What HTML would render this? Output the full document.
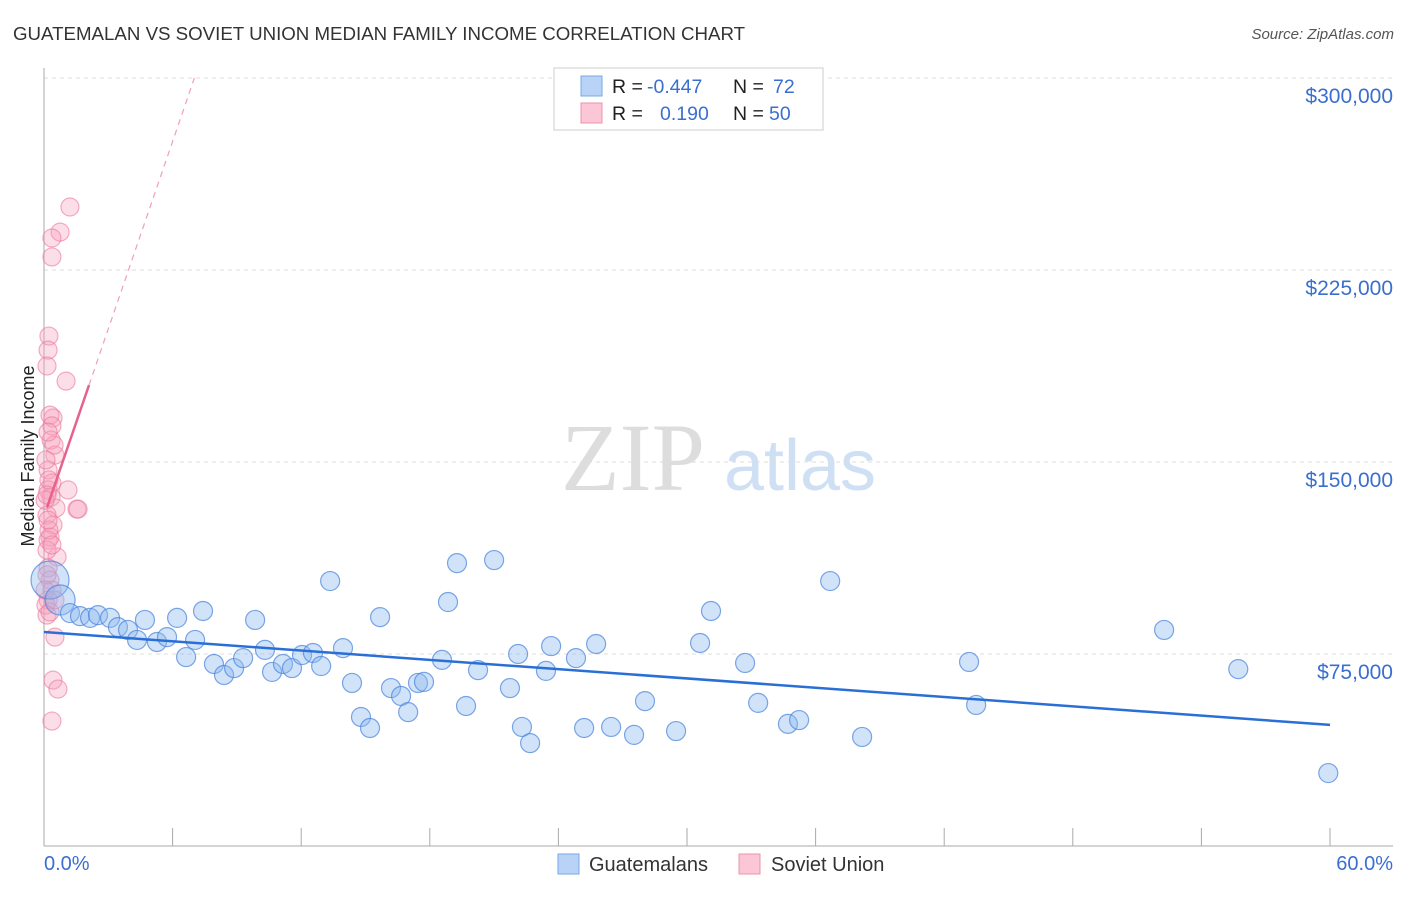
<!DOCTYPE html>
<html><head><meta charset="utf-8">
<style>
body{margin:0;background:#fff;font-family:"Liberation Sans",sans-serif;}
svg text{font-family:"Liberation Sans",sans-serif;}
</style></head>
<body>
<svg id="chart" width="1406" height="892" viewBox="0 0 1406 892" xmlns="http://www.w3.org/2000/svg">
<text x="13" y="40" font-size="18.7" fill="#333">GUATEMALAN VS SOVIET UNION MEDIAN FAMILY INCOME CORRELATION CHART</text>
<text x="1394" y="39" font-size="15" fill="#555" text-anchor="end" font-style="italic">Source: ZipAtlas.com</text>
<g>
<text x="633" y="490" font-size="96" fill="#ddd" text-anchor="middle" font-family="Liberation Serif" style="font-family:'Liberation Serif',serif">ZIP</text>
<text x="800" y="490" font-size="72" fill="#cfe0f5" text-anchor="middle">atlas</text>
</g>
<g id="grid"></g>
<g id="axes"></g>
<g id="marks"></g>
<text transform="translate(34,456) rotate(-90)" font-size="18" fill="#222" text-anchor="middle">Median Family Income</text>
<g>
<rect x="554" y="68" width="269" height="62" fill="#fff" stroke="#ddd" stroke-width="1.5"/>
<rect x="581" y="76" width="21" height="20" fill="#b8d3f5" stroke="#7aa7e6"/>
<rect x="581" y="103" width="21" height="20" fill="#fbc6d5" stroke="#ee93ae"/>
<text x="612" y="93" font-size="19.5" fill="#222">R =</text>
<text x="647" y="93" font-size="19.5" fill="#3a6fd0">-0.447</text>
<text x="733" y="93" font-size="19.5" fill="#222">N =</text>
<text x="773" y="93" font-size="19.5" fill="#3a6fd0">72</text>
<text x="612" y="120" font-size="19.5" fill="#222">R =</text>
<text x="660" y="120" font-size="19.5" fill="#3a6fd0">0.190</text>
<text x="733" y="120" font-size="19.5" fill="#222">N =</text>
<text x="769" y="120" font-size="19.5" fill="#3a6fd0">50</text>
</g>
<g>
<rect x="558" y="854" width="21" height="20" fill="#b8d3f5" stroke="#7aa7e6"/>
<text x="589" y="871" font-size="20" fill="#333">Guatemalans</text>
<rect x="739" y="854" width="21" height="20" fill="#fbc6d5" stroke="#ee93ae"/>
<text x="771" y="871" font-size="20" fill="#333">Soviet Union</text>
</g>
</svg>
<script>
const yTicks=[75000,150000,225000,300000];
const yTickLabels=["$75,000","$150,000","$225,000","$300,000"];
const xTicks=[0,6,12,18,24,30,36,42,48,54,60];
const xEndLabels=["0.0%","60.0%"];
const blueX=[0.28,0.75,1.21,1.68,2.15,2.52,3.08,3.45,3.92,4.34,4.71,5.27,5.74,6.21,6.63,7.05,7.42,7.93,8.40,8.87,9.29,9.85,10.31,10.64,11.15,11.57,12.04,12.55,12.93,13.35,13.95,14.37,14.79,15.21,15.68,16.19,16.66,16.99,17.45,17.73,18.57,18.85,19.27,19.69,20.25,21.00,21.74,22.12,22.30,22.68,23.42,23.66,24.82,25.20,25.76,26.46,27.53,28.04,29.49,30.61,31.12,32.71,33.32,34.71,35.23,36.68,38.17,43.16,43.49,52.26,55.72,59.92];
const blueY=[103.9,96.1,91.0,89.8,89.1,90.2,89.1,85.5,84.4,80.5,88.3,79.7,81.6,89.1,73.8,80.5,91.8,71.1,66.8,69.5,73.4,88.3,76.6,68.0,71.1,69.5,74.6,75.4,70.3,103.5,77.3,63.7,50.4,46.1,89.4,61.7,58.6,52.3,63.7,64.1,72.7,95.3,110.5,54.7,68.7,111.7,61.7,75.0,46.5,40.2,68.4,78.1,73.4,46.1,78.9,46.5,43.4,56.6,44.9,79.3,91.8,71.5,55.9,47.7,49.2,103.5,42.6,71.9,55.1,84.4,69.1,28.5];
const blueWeight=[4,2.5,1,1,1,1,1,1,1,1,1,1,1,1,1,1,1,1,1,1,1,1,1,1,1,1,1,1,1,1,1,1,1,1,1,1,1,1,1,1,1,1,1,1,1,1,1,1,1,1,1,1,1,1,1,1,1,1,1,1,1,1,1,1,1,1,1,1,1,1,1,1];
const pinkX=[1.21,0.75,0.37,0.37,0.23,0.19,0.14,1.03,0.42,0.28,0.37,0.33,0.51,0.19,0.37,0.19,0.33,1.12,0.56,1.54,0.14,0.42,0.28,0.19,0.61,0.19,0.28,0.37,0.19,0.14,0.51,0.42,0.65,0.37,0.23,0.05,0.14,0.09,0.28,0.14,0.23,0.47,0.09,0.19,0.37,0.05,0.14,0.51,0.19,1.59];
const pinkY=[249.6,239.8,237.5,230.1,199.2,193.7,187.5,181.6,167.2,168.3,164.1,158.6,152.7,146.9,141.8,139.1,136.3,139.1,132.0,131.6,129.3,125.4,120.7,119.5,112.9,108.6,103.9,100.0,96.1,90.2,81.6,64.8,61.3,48.8,143.0,135.1,115.6,94.1,91.4,105.9,123.4,156.6,150.8,127.3,117.6,100.0,137.1,96.1,161.7,131.6];
const blueTrend=[83.6,47.3];
const pinkTrend=[128.8,24.4];

const NS="http://www.w3.org/2000/svg";
const X0=44,X1=1330,Y0=846,PXK=192/75;
const sx=v=>X0+(v/60)*(X1-X0);
const sy=k=>Y0-k*PXK;
function mk(tag,attrs,parent){const e=document.createElementNS(NS,tag);for(const k in attrs)e.setAttribute(k,attrs[k]);parent.appendChild(e);return e;}
const grid=document.getElementById('grid'),axes=document.getElementById('axes'),marks=document.getElementById('marks');
yTicks.forEach((t,i)=>{
  const g=mk('line',{x1:44,x2:1393,y1:sy(t/1000),y2:sy(t/1000),stroke:'#ddd','stroke-dasharray':'4,4'},grid);
  
  
  const l=mk('text',{x:1393,y:sy(t/1000)+25,'font-size':21,fill:'#3a6fd0','text-anchor':'end'},axes);
  l.textContent=yTickLabels[i];
  
  
});
mk('line',{x1:44,x2:44,y1:68,y2:846,stroke:'#aaa'},axes);
mk('line',{x1:44,x2:1393,y1:846,y2:846,stroke:'#aaa'},axes);
xTicks.forEach(t=>{
  const tk=mk('line',{x1:sx(t),x2:sx(t),y1:828,y2:846,stroke:'#aaa'},axes);
  
  
});
const xl0=mk('text',{x:44,y:870,'font-size':20,fill:'#3a6fd0'},axes);xl0.textContent=xEndLabels[0];


const xl1=mk('text',{x:1393,y:870,'font-size':20,fill:'#3a6fd0','text-anchor':'end'},axes);xl1.textContent=xEndLabels[1];



pinkX.forEach((x,i)=>{
  const c=mk('circle',{cx:sx(x),cy:sy(pinkY[i]),r:9,fill:'rgba(246,160,188,0.35)',stroke:'rgba(236,120,155,0.6)','stroke-width':1.2},marks);
  
  
});
blueX.forEach((x,i)=>{
  const c=mk('circle',{cx:sx(x),cy:sy(blueY[i]),r:9.5*Math.sqrt(blueWeight[i]),fill:'rgba(140,185,240,0.4)',stroke:'rgba(70,130,220,0.7)','stroke-width':1.2},marks);
  
  
});
const bl=mk('line',{x1:sx(0),y1:sy(blueTrend[0]),x2:sx(60),y2:sy(blueTrend[1]),stroke:'#2a6fd6','stroke-width':2.5},marks);


const pxA=0.14,pxB=2.1,pxC=(300-pinkTrend[0])/pinkTrend[1];
const pl=mk('line',{x1:sx(pxA),y1:sy(pinkTrend[0]+pinkTrend[1]*pxA),x2:sx(pxB),y2:sy(pinkTrend[0]+pinkTrend[1]*pxB),stroke:'#e8608c','stroke-width':2.5},marks);


const pd=mk('line',{x1:sx(pxB),y1:sy(pinkTrend[0]+pinkTrend[1]*pxB),x2:sx(pxC),y2:sy(300),stroke:'#eea0b8','stroke-width':1.2,'stroke-dasharray':'6,5'},marks);


</script>
</body></html>
